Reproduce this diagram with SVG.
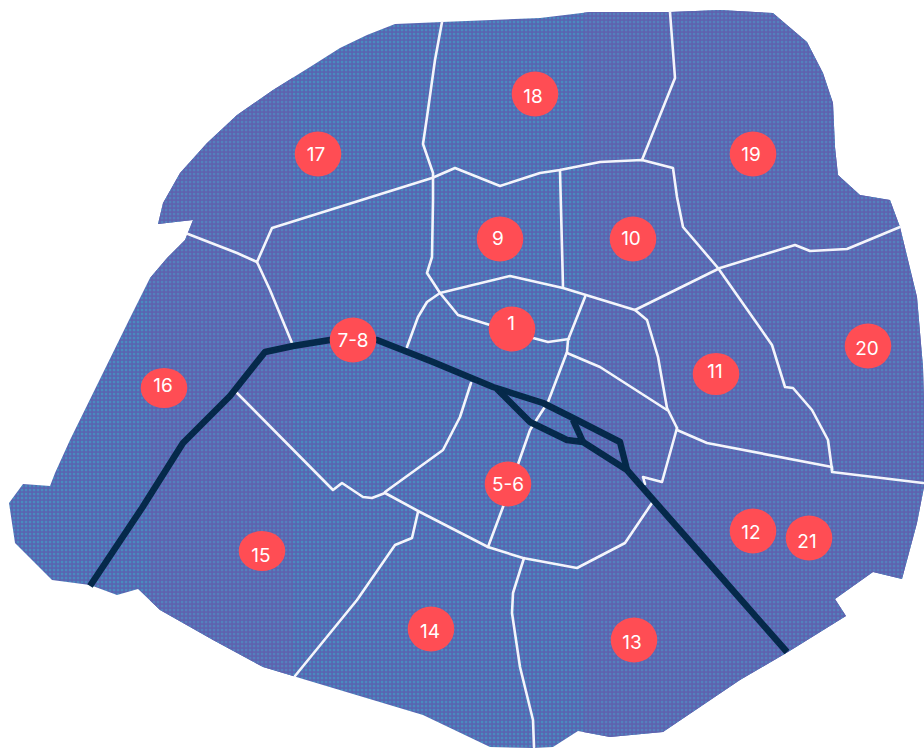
<svg xmlns="http://www.w3.org/2000/svg" width="924" height="748" viewBox="0 0 924 748">
<style>
.b{fill:none;stroke:#f4f5fb;stroke-width:2.6;stroke-linejoin:round;stroke-linecap:round}
.r{fill:none;stroke:#05294a;stroke-width:6.5;stroke-linejoin:round;stroke-linecap:butt}
.c{fill:#ff4d54}
.t{fill:#fff;font-family:Inter,"Liberation Sans",sans-serif;font-size:19px;font-weight:400;text-anchor:middle}
</style>
<defs>
<pattern id="pa" width="4" height="4" patternUnits="userSpaceOnUse">
<rect width="4" height="4" fill="#5a62b0"/>
<rect x="0.8" y="0.8" width="2.5" height="2.5" fill="#4a8abf"/>
</pattern>
<pattern id="pb" width="4" height="4" patternUnits="userSpaceOnUse">
<rect width="4" height="4" fill="#5f60ae"/>
<rect x="0.8" y="0.8" width="2.5" height="2.5" fill="#5480bd"/>
</pattern>
<clipPath id="city"><path id="outline" d="M158 224L163 203L180 173L207 143L237 115L273 90L310 67L340 48L367 35L395 24L442 22L540 18L590 12L670 12L720 10L773 13L787 25L807 42L823 73L833 103L835 147L838 175L860 195L890 200L900 227L917 297L923 367L924 400L924 487L917 523L902 579L873 572L835 599L846 616L788 652L740 680L663 732L610 737L578 731L553 747L533 748L490 747L423 715L363 697L293 676L263 667L213 640L160 610L138 589L117 595L90 585L52 580L15 543L9 503L23 484L50 486L55 473L70 440L130 318L150 278L167 258L185 240L193 220Z"/></clipPath>
</defs>
<rect width="924" height="748" fill="#fff"/>
<g id="map" clip-path="url(#city)">
<rect width="924" height="748" fill="url(#pa)"/>
<rect x="584" width="340" height="748" fill="url(#pb)"/>
<rect x="150" width="143" height="748" fill="url(#pb)"/>
</g>
<g id="boundaries">
<path class="b" d="M442 22L435 60L427 117L423 144L433 173L433 200L432 257L427 273L440 293L458 315L490 325L533 338L548 342L569 339"/>
<path class="b" d="M188 234L237 253L257 262L272 228L432 178L455 168L500 186L540 173L560 170L600 162L642 160L673 168L677 197L683 227L718 268L772 345L785 387L793 388L812 410L828 440L832 470"/>
<path class="b" d="M670 12L675 78L642 160"/>
<path class="b" d="M560 170L563 287"/>
<path class="b" d="M407 347L418 317L427 302L440 293L510 276L563 288L635 310L720 268L795 245L810 251L847 249L900 227"/>
<path class="b" d="M635 310L647 320L658 357L667 408L677 428"/>
<path class="b" d="M585 297L568 340L567 352L548 402L530 430L503 507L488 547"/>
<path class="b" d="M567 353L600 367L667 410"/>
<path class="b" d="M677 428L662 482L643 477L645 484"/>
<path class="b" d="M652 503L625 543L577 568L523 558L488 547L420 512L385 493L372 498L363 497L342 483L333 490L235 391"/>
<path class="b" d="M471 383L460 417L443 450L385 492"/>
<path class="b" d="M677 430L707 443L832 467L832 472L923 483"/>
<path class="b" d="M418 512L412 538L395 545L357 600L295 676"/>
<path class="b" d="M524 558L513 593L512 613L520 667L533 720L534 747"/>
<path class="b" d="M257 262L270 290L292 343"/>
</g>
<g id="river">
<path class="r" d="M90 586L142 508L183 443L230 396L265 352L293 346L330 340L377 340L433 362L493 387L543 403L573 418L620 442L627 470"/>
<path class="r" d="M497 389L530 422L567 440L583 442L627 470L700 553L787 652"/>
<path class="r" d="M573 420L583 442"/>
</g>
<g id="n17"><ellipse class="c" cx="318" cy="154" rx="23.3" ry="22.5"/><text class="t" x="316" y="160.5">17</text></g>
<g id="n18"><ellipse class="c" cx="535" cy="94" rx="23.3" ry="22.5"/><text class="t" x="533" y="103">18</text></g>
<g id="n19"><ellipse class="c" cx="753" cy="154" rx="23.3" ry="22.5"/><text class="t" x="751" y="160.5">19</text></g>
<g id="n9"><ellipse class="c" cx="500" cy="239" rx="23.3" ry="22.5"/><text class="t" x="498" y="244.5">9</text></g>
<g id="n10"><ellipse class="c" cx="633" cy="239" rx="23.3" ry="22.5"/><text class="t" x="631" y="244.5">10</text></g>
<g id="n1"><ellipse class="c" cx="512" cy="329" rx="23.3" ry="22.5"/><text class="t" x="511" y="329.5">1</text></g>
<g id="n7-8"><ellipse class="c" cx="353" cy="340" rx="23.3" ry="22.5"/><text class="t" x="353" y="346.5">7-8</text></g>
<g id="n5-6"><ellipse class="c" cx="508" cy="484" rx="23.3" ry="22.5"/><text class="t" x="508" y="490.5">5-6</text></g>
<g id="n11"><ellipse class="c" cx="716" cy="374" rx="23.3" ry="21"/><text class="t" x="715" y="377.5">11</text></g>
<g id="n20"><ellipse class="c" cx="868" cy="346" rx="23.3" ry="22.5"/><text class="t" x="867" y="354.5">20</text></g>
<g id="n16"><ellipse class="c" cx="164" cy="388" rx="23.3" ry="20"/><text class="t" x="163" y="391.5">16</text></g>
<g id="n15"><ellipse class="c" cx="262" cy="551" rx="23.3" ry="20"/><text class="t" x="261" y="561.5">15</text></g>
<g id="n14"><ellipse class="c" cx="431" cy="629" rx="23.3" ry="22.5"/><text class="t" x="430" y="637.5">14</text></g>
<g id="n13"><ellipse class="c" cx="634" cy="640" rx="23.3" ry="22.5"/><text class="t" x="632" y="648.5">13</text></g>
<g id="n12"><ellipse class="c" cx="753" cy="531" rx="23.3" ry="22.5"/><text class="t" x="751" y="538.5">12</text></g>
<g id="n21"><ellipse class="c" cx="809" cy="538" rx="23.3" ry="22.5"/><text class="t" x="807" y="547.5">21</text></g>
</svg>
